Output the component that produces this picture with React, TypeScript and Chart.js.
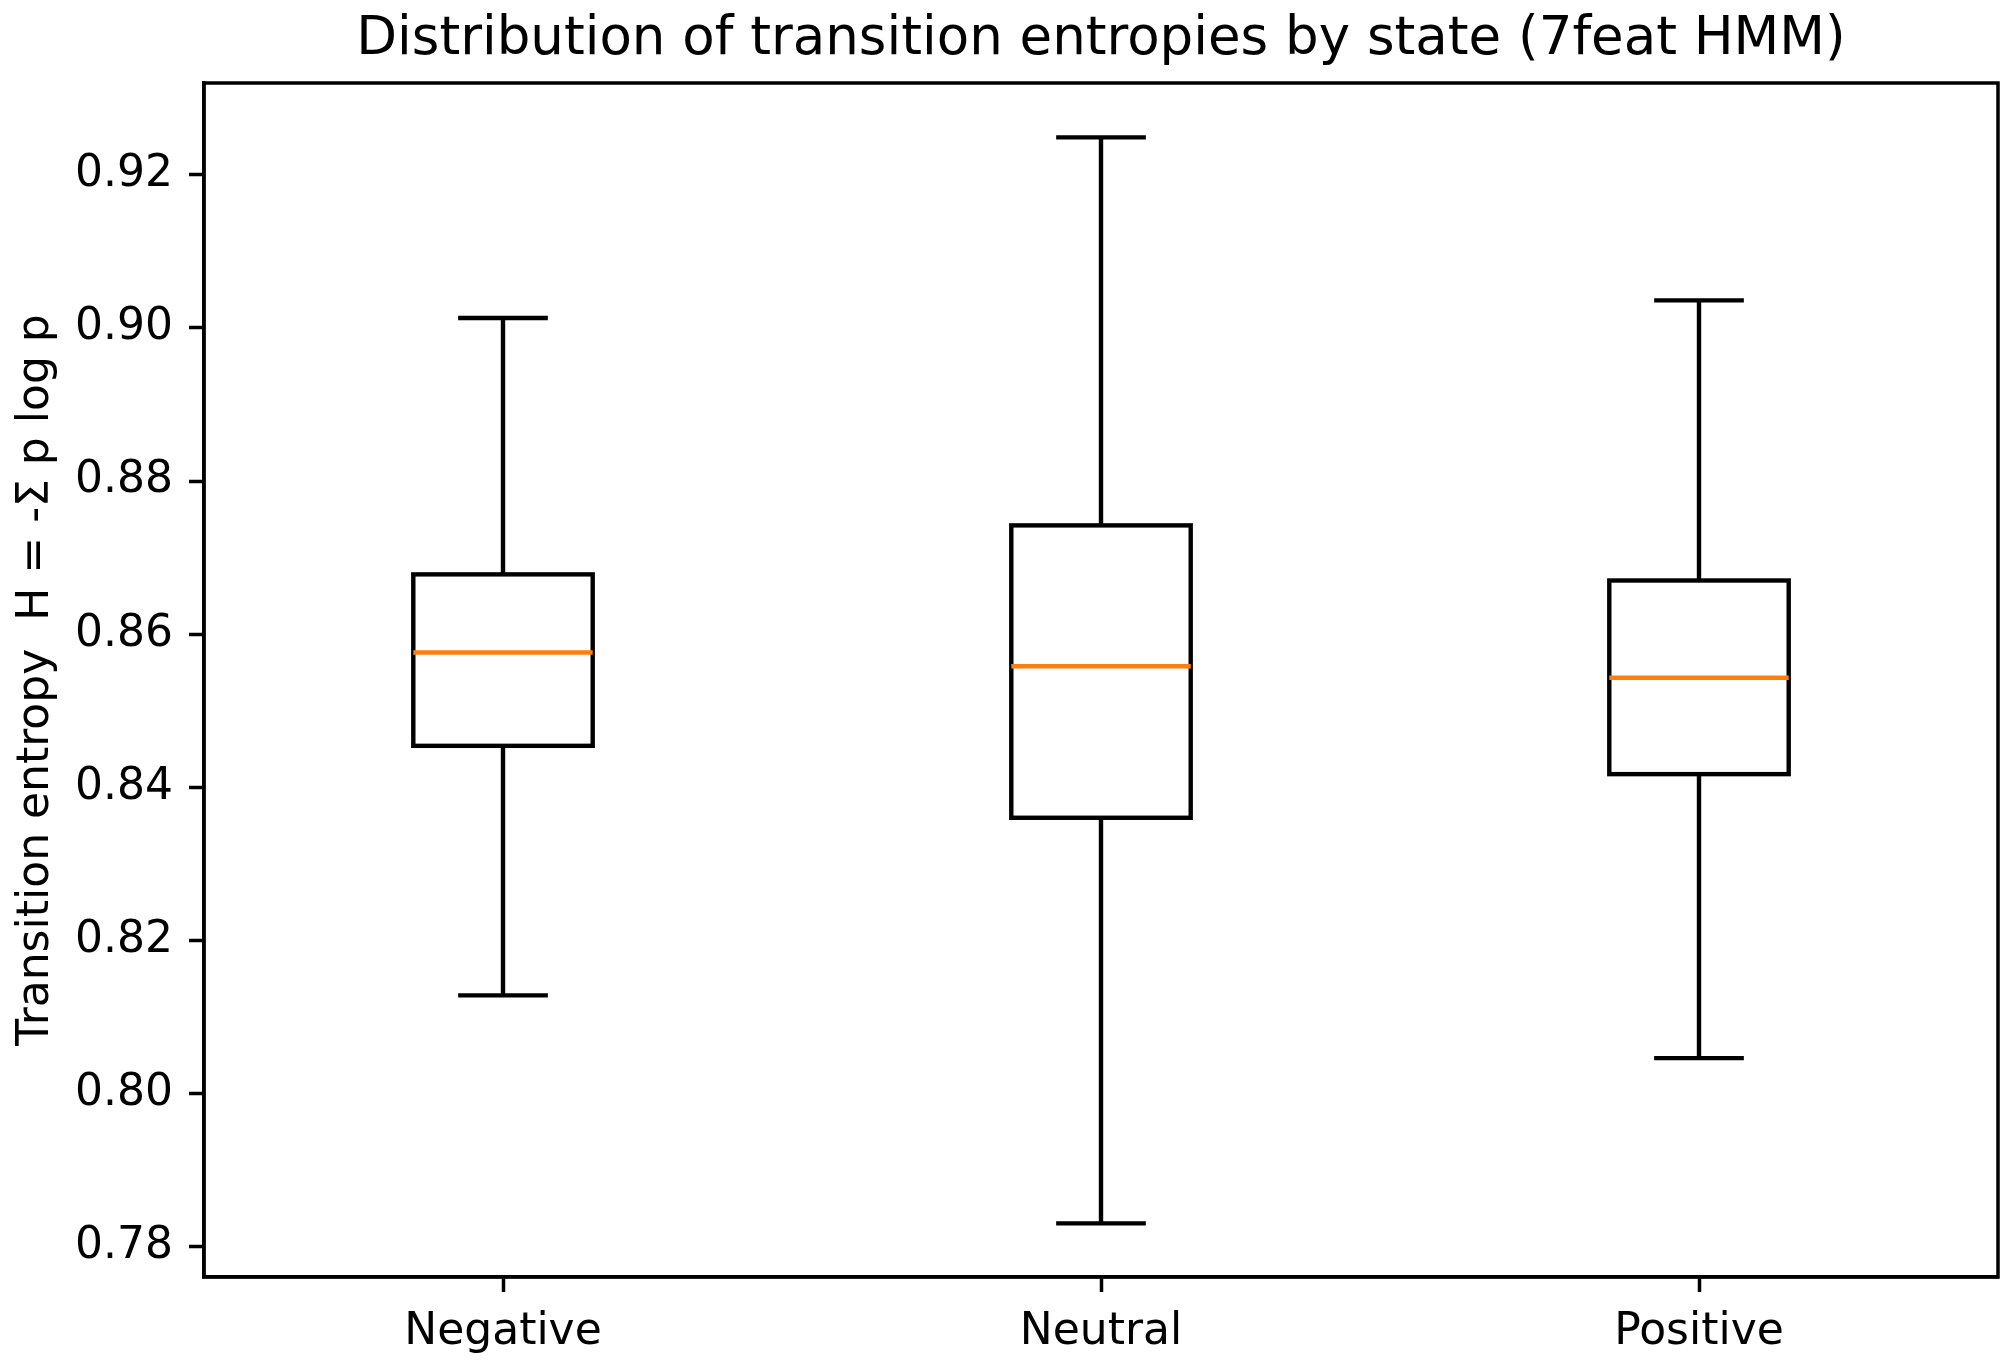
import React, { useEffect, useRef } from "react";
import { Chart, registerables } from "chart.js";

Chart.register(...registerables);

const CATEGORIES = ["Negative", "Neutral", "Positive"];
const WHISKER_LOW = [0.8128, 0.783, 0.8046];
const Q1 = [0.8454, 0.836, 0.8417];
const MEDIAN = [0.8576, 0.8558, 0.8543];
const Q3 = [0.8678, 0.8742, 0.867];
const WHISKER_HIGH = [0.9013, 0.9249, 0.9036];
const Y_TICKS = [0.78, 0.8, 0.82, 0.84, 0.86, 0.88, 0.9, 0.92];
const Y_MIN = 0.776;
const Y_MAX = 0.932;

const TITLE = "Distribution of transition entropies by state (7feat HMM)";
const Y_LABEL = "Transition entropy  H = -Σ p log p";

const FONT = "'DejaVu Sans', 'Liberation Sans', sans-serif";

const boxPlugin = {
  id: "boxExtras",
  afterDatasetsDraw(chart: any) {
    const ctx = chart.ctx;
    const xs = chart.scales.x;
    const ys = chart.scales.y;
    const meta = chart.getDatasetMeta(0);
    ctx.save();
    ctx.lineCap = "butt";
    CATEGORIES.forEach((_, i) => {
      const el: any = meta.data[i];
      const w = el ? el.width : 100;
      const x = xs.getPixelForValue(i);
      const yLow = ys.getPixelForValue(WHISKER_LOW[i]);
      const yQ1 = ys.getPixelForValue(Q1[i]);
      const yMed = ys.getPixelForValue(MEDIAN[i]);
      const yQ3 = ys.getPixelForValue(Q3[i]);
      const yHigh = ys.getPixelForValue(WHISKER_HIGH[i]);
      ctx.strokeStyle = "#000000";
      ctx.lineWidth = 4.4;
      ctx.beginPath();
      ctx.moveTo(x, yQ1);
      ctx.lineTo(x, yLow);
      ctx.moveTo(x, yQ3);
      ctx.lineTo(x, yHigh);
      ctx.stroke();
      const cap = w / 4;
      ctx.beginPath();
      ctx.moveTo(x - cap, yLow);
      ctx.lineTo(x + cap, yLow);
      ctx.moveTo(x - cap, yHigh);
      ctx.lineTo(x + cap, yHigh);
      ctx.stroke();
      ctx.strokeRect(x - w / 2, yQ3, w, yQ1 - yQ3);
      ctx.strokeStyle = "#ff7f0e";
      ctx.lineWidth = 4.4;
      ctx.beginPath();
      ctx.moveTo(x - w / 2, yMed);
      ctx.lineTo(x + w / 2, yMed);
      ctx.stroke();
    });
    const a = chart.chartArea;
    ctx.strokeStyle = "#000000";
    ctx.lineWidth = 3.5;
    ctx.strokeRect(a.left, a.top, a.right - a.left, a.bottom - a.top);
    ctx.restore();
  },
};

export default function App() {
  const ref = useRef<HTMLCanvasElement | null>(null);
  useEffect(() => {
    document.body.style.margin = "0";
    const canvas = ref.current;
    if (!canvas) return;
    const chart = new Chart(canvas, {
      type: "bar",
      data: {
        labels: CATEGORIES,
        datasets: [
          {
            data: CATEGORIES.map((_, i) => [Q1[i], Q3[i]]) as any,
            backgroundColor: "#ffffff",
            borderColor: "rgba(0,0,0,0)",
            borderWidth: 0,
            barPercentage: 0.3,
            categoryPercentage: 1,
          },
        ],
      },
      options: {
        responsive: false,
        animation: false,
        devicePixelRatio: 1,
        layout: { padding: { top: 0, left: 0, right: 10, bottom: 0 } },
        plugins: {
          legend: { display: false },
          tooltip: { enabled: false },
          title: {
            display: true,
            fullSize: false,
            text: TITLE,
            color: "#000000",
            font: { family: FONT, size: 53, weight: "normal" as any, lineHeight: 1.2 },
            padding: { top: 8.2, bottom: 11.2 },
          },
        },
        scales: {
          x: {
            type: "category",
            offset: true,
            grid: {
              offset: false,
              drawOnChartArea: false,
              drawTicks: true,
              tickLength: 15,
              tickWidth: 3.5,
              tickColor: "#000000",
            },
            border: { display: true, color: "#000000", width: 3.5 },
            ticks: {
              color: "#000000",
              padding: 14,
              maxRotation: 0,
              font: { family: FONT, size: 44 },
            },
            afterFit(scale: any) {
              scale.height = 86;
            },
          },
          y: {
            type: "linear",
            min: Y_MIN,
            max: Y_MAX,
            afterBuildTicks(scale: any) {
              scale.ticks = Y_TICKS.map((v) => ({ value: v }));
            },
            afterFit(scale: any) {
              scale.width = 204;
            },
            grid: {
              drawOnChartArea: false,
              drawTicks: true,
              tickLength: 15,
              tickWidth: 3.5,
              tickColor: "#000000",
            },
            border: { display: true, color: "#000000", width: 3.5 },
            ticks: {
              color: "#000000",
              padding: 16,
              font: { family: FONT, size: 44 },
              callback: (v: any) => Number(v).toFixed(2),
            },
            title: {
              display: true,
              text: Y_LABEL,
              color: "#000000",
              font: { family: FONT, size: 44, lineHeight: 1.2 },
              padding: { top: 10, bottom: 0 },
            },
          },
        },
      },
      plugins: [boxPlugin],
    });
    return () => chart.destroy();
  }, []);
  return (
    <div style={{ position: "absolute", left: 0, top: 0, width: 2008, height: 1363, background: "#ffffff" }}>
      <canvas ref={ref} width={2008} height={1363} style={{ display: "block" }} />
    </div>
  );
}
